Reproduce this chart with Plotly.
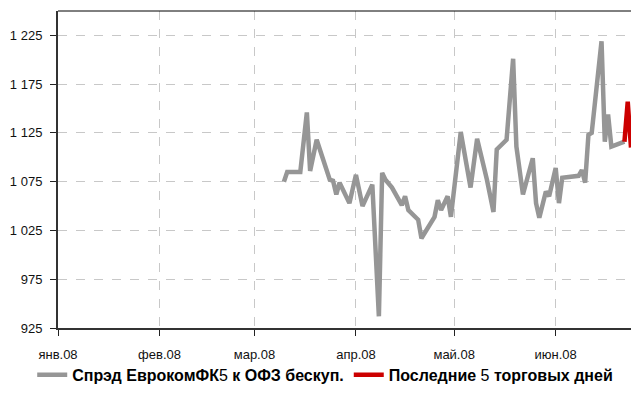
import plotly.graph_objects as go

# Spread series (gray)
spread_dates = [
    "2008-03-10", "2008-03-11", "2008-03-15", "2008-03-17", "2008-03-18", "2008-03-20",
    "2008-03-24", "2008-03-25", "2008-03-26", "2008-03-27", "2008-03-30", "2008-04-01",
    "2008-04-03", "2008-04-06", "2008-04-08", "2008-04-09", "2008-04-10", "2008-04-12",
    "2008-04-15", "2008-04-16", "2008-04-17", "2008-04-20", "2008-04-21", "2008-04-25",
    "2008-04-26", "2008-04-27", "2008-04-29", "2008-04-30", "2008-05-03", "2008-05-06",
    "2008-05-08", "2008-05-11", "2008-05-13", "2008-05-14", "2008-05-17", "2008-05-19",
    "2008-05-20", "2008-05-22", "2008-05-25", "2008-05-26", "2008-05-27", "2008-05-29",
    "2008-05-30", "2008-06-01", "2008-06-02", "2008-06-03", "2008-06-08", "2008-06-09",
    "2008-06-10", "2008-06-11", "2008-06-12", "2008-06-15", "2008-06-16", "2008-06-17",
    "2008-06-18", "2008-06-22",
]
spread_values = [
    1075, 1085, 1085, 1146, 1086, 1118,
    1077, 1076, 1062, 1074, 1053, 1082,
    1050, 1072, 937, 1084, 1077, 1069,
    1051, 1060, 1046, 1036, 1017, 1039,
    1056, 1046, 1060, 1039, 1126, 1069,
    1119, 1077, 1044, 1108, 1118, 1201,
    1111, 1062, 1099, 1053, 1038, 1065,
    1060, 1089, 1053, 1079, 1081, 1087,
    1074, 1123, 1125, 1219, 1116, 1144,
    1111, 1116,
]

# Last 5 trading days (red)
last_dates = ["2008-06-22", "2008-06-23", "2008-06-24"]
last_values = [1116, 1157, 1110]

month_ticks = ["2008-01-01", "2008-02-01", "2008-03-01", "2008-04-01", "2008-05-01", "2008-06-01"]
month_labels = ["янв.08", "фев.08", "мар.08", "апр.08", "май.08", "июн.08"]

y_ticks = [925, 975, 1025, 1075, 1125, 1175, 1225]
y_labels = ["925", "975", "1 025", "1 075", "1 125", "1 175", "1 225"]

series_names = [
    "<b>Спрэд ЕврокомФК</b>5<b> к ОФЗ бескуп.</b>",
    "<b>Последние </b>5<b> торговых дней</b>",
]

FONT = "Liberation Sans Narrow, Arial Narrow, Liberation Sans, Arial, sans-serif"

fig = go.Figure()
fig.add_trace(go.Scatter(
    x=spread_dates, y=spread_values, mode="lines", name=series_names[0],
    line=dict(color="#969696", width=4.5),
))
fig.add_trace(go.Scatter(
    x=last_dates, y=last_values, mode="lines", name=series_names[1],
    line=dict(color="#cc0000", width=4.5),
))

# page body has an 8px default margin, so the figure fits in 623x378
fig.update_layout(
    width=623, height=378,
    margin=dict(l=50, r=0, t=3, b=58, autoexpand=False),
    paper_bgcolor="white", plot_bgcolor="white",
    font=dict(family=FONT, size=13, color="#111111"),
    showlegend=True,
    legend=dict(
        orientation="h", x=-0.045, xanchor="left", y=-0.148, yanchor="middle",
        font=dict(family=FONT, size=16, color="#000000"),
        itemwidth=30, tracegroupgap=0, bgcolor="rgba(0,0,0,0)",
    ),
    shapes=[dict(type="line", xref="paper", yref="paper", x0=0, x1=1, y0=1, y1=1,
                 line=dict(color="#000000", width=1))],
)

fig.update_xaxes(
    type="date", automargin=False,
    range=["2008-01-01", "2008-06-24"],
    tickmode="array", tickvals=month_ticks, ticktext=month_labels,
    ticks="outside", ticklen=6, tickcolor="#222222", tickwidth=1,
    ticklabelstandoff=7,
    showline=True, linecolor="#333333", linewidth=2,
    showgrid=True, gridcolor="#c8c8c8", griddash="dash", gridwidth=1,
    zeroline=False,
)
fig.update_yaxes(
    range=[925, 1250], automargin=False,
    tickmode="array", tickvals=y_ticks, ticktext=y_labels,
    ticks="outside", ticklen=6, tickcolor="#222222", tickwidth=1,
    ticklabelstandoff=5,
    showline=True, linecolor="#333333", linewidth=2,
    showgrid=True, gridcolor="#c8c8c8", griddash="dash", gridwidth=1,
    zeroline=False,
)

fig.write_html("out.html")
